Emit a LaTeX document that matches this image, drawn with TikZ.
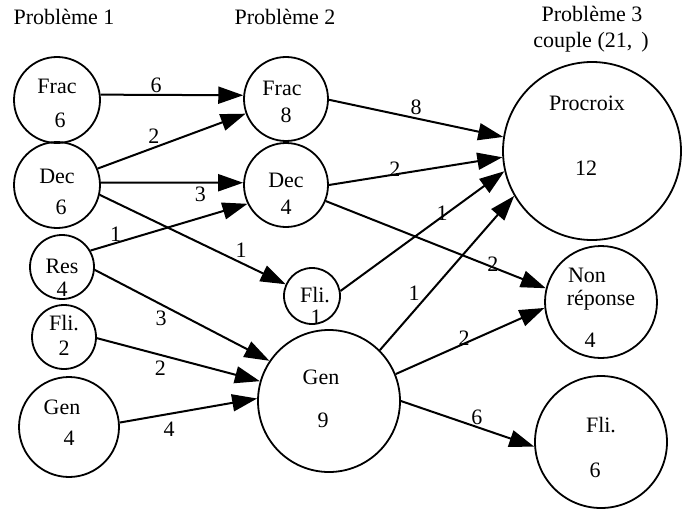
\documentclass[tikz,border=0pt]{standalone}
\usepackage{fontspec}
\setmainfont{Liberation Serif}
\usetikzlibrary{arrows.meta}

\tikzset{
  etat/.style={draw, circle, line width=1.8pt, inner sep=0pt},
  fl/.style={-{Triangle[length=25pt,width=17pt]}, line width=2pt},
  val/.style={inner sep=1pt}
}

\begin{document}
\begin{tikzpicture}[x=1pt, y=-1pt, font=\fontsize{22}{25}\selectfont]
    \useasboundingbox (0,0) rectangle (684,508);
    \node (titre1) at (64,17) {Problème 1};
    \node (titre2) at (285,17) {Problème 2};
    \node (titre3) at (592,14) {Problème 3};
    \node (couple) at (591,42) {couple (21,\hspace{9pt})};

    \node[etat, minimum size=86pt, label={[yshift=14pt]center:Frac}, label={[xshift=3pt,yshift=-20pt]center:6}] (frac1) at (57,100) {};
    \node[etat, minimum size=86pt, label={[yshift=9pt]center:Dec}, label={[xshift=4pt,yshift=-22pt]center:6}] (dec1) at (57,185) {};
    \node[etat, minimum size=64pt, label={[yshift=1pt]center:Res}, label={[yshift=-22pt]center:4}] (res1) at (62,267) {};
    \node[etat, minimum size=64pt, label={[yshift=14pt]center:Fli.}, label={[yshift=-11pt]center:2}] (fli1) at (64,337) {};
    \node[etat, minimum size=100pt, label={[xshift=-7pt,yshift=20pt]center:Gen}, label={[yshift=-11pt]center:4}] (gen1) at (69,427) {};

    \node[etat, minimum size=84pt, label={[xshift=-4pt,yshift=11pt]center:Frac}, label={[yshift=-16pt]center:8}] (frac2) at (286,99) {};
    \node[etat, minimum size=84pt, label={[yshift=5pt]center:Dec}, label={[yshift=-22pt]center:4}] (dec2) at (286,185) {};
    \node[etat, minimum size=56pt, label={[xshift=3pt,yshift=1pt]center:Fli.}, label={[xshift=4pt,yshift=-21pt]center:1}] (fli2) at (312,296) {};
    \node[etat, minimum size=142pt, label={[xshift=-8pt,yshift=24pt]center:Gen}, label={[xshift=-6pt,yshift=-19pt]center:9}] (gen2) at (329,401) {};

    \node[etat, minimum size=178pt, label={[xshift=-5pt,yshift=48pt]center:Procroix}, label={[xshift=-6pt,yshift=-17pt]center:12}] (proc) at (592,151) {};
    \node[etat, minimum size=112pt, label={[xshift=-14pt,yshift=27pt]center:Non}, label={[yshift=2pt]center:réponse}, label={[xshift=-11pt,yshift=-38pt]center:4}] (nonrep) at (601,302) {};
    \node[etat, minimum size=132pt, label={[yshift=17pt]center:Fli.}, label={[xshift=-6pt,yshift=-28pt]center:6}] (fli3) at (601,442) {};

    \draw[fl] (frac1.7) -- node[val, pos=0.39, above] {6} (frac2.175);
    \draw[fl] (dec1.22) -- node[val, pos=0.38, above=2pt] {2} (frac2.200);
    \draw[fl] (dec1.3) -- node[val, pos=0.7, below=2pt] {3} (dec2.177);
    \draw[fl] (dec1.-13) -- node[val, pos=0.72, above right] {1} (fli2.156);
    \draw[fl] (res1.30) -- node[val, pos=0.16, above] {1} (dec2.206);
    \draw[fl] (res1.-5) -- node[val, pos=0.38, below=5pt] {3} (gen2.146);
    \draw[fl] (fli1.-2) -- node[val, pos=0.39, below=4pt] {2} (gen2.164);
    \draw[fl] (gen1.5) -- node[val, pos=0.36, below=6pt] {4} (gen2.178);

    \draw[fl] (frac2.-1) -- node[val, pos=0.5, above=2pt] {8} (proc.171);
    \draw[fl] (dec2.0) -- node[val, pos=0.38, above=-4pt] {2} (proc.184);
    \draw[fl] (fli2.10) -- node[val, pos=0.62, above=-6pt] {1} (proc.193);
    \draw[fl] (gen2.45) -- node[val, pos=0.37, left=8pt] {1} (proc.210);
    \draw[fl] (dec2.-22) -- node[val, pos=0.76, above=-6pt] {2} (nonrep.166);
    \draw[fl] (gen2.22) -- node[val, pos=0.46, above=-4pt] {2} (nonrep.186);
    \draw[fl] (gen2.0) -- node[val, pos=0.57, above] {6} (fli3.184);
\end{tikzpicture}
\end{document}
